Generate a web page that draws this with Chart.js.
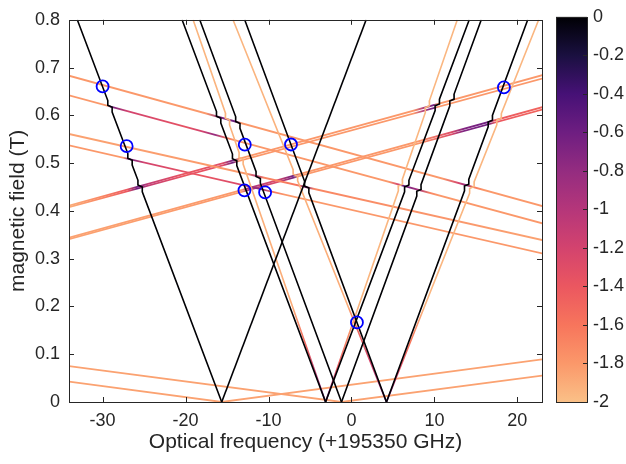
<!DOCTYPE html>
<html>
<head>
<meta charset="utf-8">
<script src="https://cdn.jsdelivr.net/npm/chart.js@4.4.1/dist/chart.umd.min.js"></script>
<style>
  html, body { margin: 0; padding: 0; background: #fff; }
  #wrap { position: relative; width: 626px; height: 464px; overflow: hidden; }
  #main { position: absolute; left: 0; top: 0; width: 550px; height: 464px; }
  #bar { position: absolute; left: 548px; top: 0; width: 78px; height: 464px; }
</style>
</head>
<body>
<div id="wrap">
  <div id="main"><canvas id="spectrumChart"></canvas></div>
  <div id="bar"><canvas id="colorbarChart"></canvas></div>
</div>
<script>
// axis ticks
const freqTicks = [-30, -20, -10, 0, 10, 20];
const fieldTicks = [0, 0.1, 0.2, 0.3, 0.4, 0.5, 0.6, 0.7, 0.8];
const logTicks = [0, -0.2, -0.4, -0.6, -0.8, -1, -1.2, -1.4, -1.6, -1.8, -2];

// steep transitions, [frequency (GHz), field (T)], listed top end first
const blackBranches = [
  [[-33.05, 0.8], [-15.64, 0]],
  [[1.77, 0.8], [-15.64, 0]],
  [[-20.42, 0.8], [-3.12, 0]],
  [[14.2, 0.8], [-3.12, 0]],
  [[-18.29, 0.8], [-1.2, 0]],
  [[15.65, 0.8], [-1.2, 0]],
  [[-12.87, 0.8], [4.22, 0]],
  [[21.25, 0.8], [4.22, 0]]
];
// fields (T) where each black branch shows an avoided crossing
const blackKinks = [
  [0.619, 0.508, 0.452],
  [],
  [0.596, 0.507],
  [0.622, 0.452],
  [0.585, 0.47],
  [0.632, 0.443],
  [0.45],
  [0.588, 0.454]
];
const orangeBranches = [
  [[-19.09, 0.8], [-3.12, 0]],
  [[12.76, 0.8], [-3.12, 0]],
  [[-14.28, 0.8], [4.22, 0]],
  [[22.57, 0.8], [4.22, 0]]
];
const orangeKinks = [
  [0.592, 0.51],
  [0.618, 0.454],
  [0.475],
  [0.592, 0.449]
];
// log intensity along each orange branch, [frequency, log10 I]
const orangeShade = [
  [[-19.09, -1.95], [-7.1, -1.9], [-5.5, -1.5], [-4.1, -1.0], [-3.12, -0.6]],
  [[12.76, -1.95], [0.9, -1.95], [-0.1, -1.8], [-1.7, -1.4], [-2.5, -0.9], [-3.12, -0.6]],
  [[-14.28, -1.95], [-0.4, -1.9], [0.3, -1.6], [2.4, -1.2], [3.8, -0.8], [4.22, -0.6]],
  [[22.57, -1.95], [8.8, -1.95], [7.0, -1.6], [5.4, -1.2], [4.22, -0.6]]
];

// shallow transitions
const shallowBranches = [
  [[-34.05, 0.683], [23, 0.41]],
  [[-34.05, 0.642], [23, 0.374]],
  [[-34.05, 0.561], [23, 0.339]],
  [[-34.05, 0.537], [23, 0.311]],
  [[-34.05, 0.411], [23, 0.684]],
  [[-34.05, 0.408], [23, 0.677]],
  [[-34.05, 0.344], [23, 0.617]],
  [[-34.05, 0.341], [23, 0.612]],
  [[-34.05, 0.0426], [-15.64, 0], [23, 0.0893]],
  [[-34.05, 0.075], [-1.2, 0], [23, 0.0552]]
];
const shallowShade = [
  [[-34.05, -1.8], [-17.5, -1.8], [-15.8, -0.7], [-14, -0.6], [-13.3, -1.8], [11, -1.8], [13, -1.2], [13.9, -0.7], [14.6, -1.6], [16, -1.8]],
  [[-34.05, -1.8], [-29.4, -1.8], [-29, -0.6], [-27, -1.2], [-20, -1.35], [-18, -1.2], [-16.5, -0.8], [-15, -1.6], [-14, -1.8], [4.5, -1.8], [5.7, -1.2], [6.2, -0.6], [8, -0.9], [9.5, -1.7], [10.5, -1.8]],
  [[-34.05, -1.85], [-12.5, -1.8], [-11.5, -1.0], [-10.5, -1.7], [-6.5, -1.6], [-5.5, -0.7], [-4.5, -1.7], [23, -1.85]],
  [[-34.05, -1.8], [-27.5, -1.8], [-26.8, -0.6], [-25, -1.2], [-18, -1.4], [-13.5, -1.25], [-11, -0.7], [-9.5, -1.6], [-8, -1.8], [23, -1.8]],
  [[-34.05, -1.9], [-30, -1.7], [-27, -1.4], [-25.8, -0.6], [-24.5, -1.1], [-20, -1.4], [-15.5, -1.3], [-14.3, -0.6], [-13.5, -1.8], [7.5, -1.8], [8.8, -0.9], [9.9, -0.6], [10.4, -1.8]],
  [[-34.05, -1.9], [-30, -1.7], [-27, -1.4], [-25.8, -0.6], [-24.5, -1.1], [-20, -1.4], [-15.5, -1.3], [-14.3, -0.6], [-13.5, -1.8], [7.5, -1.8], [8.8, -0.9], [9.9, -0.6], [10.4, -1.8]],
  [[-34.05, -1.85], [-13.2, -1.8], [-12.5, -0.9], [-9, -1.3], [-7, -0.6], [-6.3, -1.8], [8, -1.8], [12, -1.3], [13.5, -0.7], [16.5, -0.6], [17.3, -1.4], [23, -1.5]],
  [[-34.05, -1.85], [-13.2, -1.8], [-12.5, -0.9], [-9, -1.3], [-7, -0.6], [-6.3, -1.8], [8, -1.8], [12, -1.3], [13.5, -0.7], [16.5, -0.6], [17.3, -1.4], [23, -1.5]],
  [[-34.05, -1.85]],
  [[-34.05, -1.85]]
];

// measured points (blue circles)
const markFreq = [-30.0, -27.1, -12.86, -7.29, -12.9, -10.41, 18.38, 0.66];
const markField = [0.6605, 0.5354, 0.5387, 0.539, 0.443, 0.4386, 0.6585, 0.1665];

// colour map of the colour bar, [log10 I, rgb]
const cmapStops = [
  [0, [0, 0, 4]], [-0.2, [26, 16, 64]], [-0.4, [70, 17, 118]], [-0.6, [110, 30, 129]],
  [-0.8, [148, 44, 128]], [-1, [181, 54, 122]], [-1.2, [211, 67, 110]], [-1.4, [235, 87, 96]],
  [-1.6, [247, 117, 92]], [-1.8, [251, 152, 106]], [-2, [250, 192, 135]]
];

function cmap(v) {
  if (v >= 0) return 'rgb(0,0,4)';
  for (let i = 0; i < cmapStops.length - 1; i++) {
    const [v0, c0] = cmapStops[i], [v1, c1] = cmapStops[i + 1];
    if (v <= v0 && v >= v1) {
      const t = (v0 - v) / (v0 - v1);
      const c = c0.map((k, j) => Math.round(k + (c1[j] - k) * t));
      return `rgb(${c[0]},${c[1]},${c[2]})`;
    }
  }
  const c = cmapStops[cmapStops.length - 1][1];
  return `rgb(${c[0]},${c[1]},${c[2]})`;
}

// small S-shaped step where a steep branch meets a shallow one
function withKinks(pts, kinks) {
  const [top, bottom] = pts;
  const slope = (bottom[0] - top[0]) / (bottom[1] - top[1]);
  const xAt = f => top[0] + slope * (f - top[1]);
  const dir = slope < 0 ? 1 : -1;
  const half = 0.22, reach = 0.012, inner = 0.002;
  const out = [top];
  kinks.slice().sort((a, b) => b - a).forEach(f => {
    out.push([xAt(f + reach), f + reach]);
    out.push([xAt(f + inner) - dir * half, f + inner]);
    out.push([xAt(f - inner) + dir * half, f - inner]);
    out.push([xAt(f - reach), f - reach]);
  });
  out.push(bottom);
  return out;
}

function strokeFor(chart, pts, shade) {
  const plain = cmap(shade[0][1]);
  if (shade.length === 1 || !chart.chartArea) return plain;
  const { x, y } = chart.scales;
  if (!x || !y) return plain;
  const first = pts[0], last = pts[pts.length - 1];
  const x0 = x.getPixelForValue(first[0]), y0 = y.getPixelForValue(first[1]);
  const x1 = x.getPixelForValue(last[0]), y1 = y.getPixelForValue(last[1]);
  if (![x0, y0, x1, y1].every(Number.isFinite)) return plain;
  const g = chart.ctx.createLinearGradient(x0, y0, x1, y1);
  shade.forEach(([f, v]) => {
    const t = Math.min(1, Math.max(0, (f - first[0]) / (last[0] - first[0])));
    g.addColorStop(t, cmap(v));
  });
  return g;
}

const fontFamily = '"Liberation Sans", Arial, Helvetica, sans-serif';
const inkColor = '#262626';
const toXY = pts => pts.map(p => ({ x: p[0], y: p[1] }));

const datasets = [];
datasets.push({
  data: markFreq.map((f, i) => ({ x: f, y: markField[i] })),
  showLine: false,
  pointRadius: 6,
  pointBorderWidth: 1.8,
  pointBorderColor: '#0000ff',
  pointBackgroundColor: 'rgba(0,0,0,0)'
});
blackBranches.forEach((pts, i) => datasets.push({
  data: toXY(withKinks(pts, blackKinks[i])),
  borderColor: 'rgb(0,0,4)', borderWidth: 1.6, pointRadius: 0
}));
orangeBranches.forEach((pts, i) => datasets.push({
  data: toXY(withKinks(pts, orangeKinks[i])),
  borderColor: ctx => strokeFor(ctx.chart, pts, orangeShade[i]), borderWidth: 1.6, pointRadius: 0
}));
shallowBranches.forEach((pts, i) => datasets.push({
  data: toXY(pts),
  borderColor: ctx => strokeFor(ctx.chart, pts, shallowShade[i]), borderWidth: 1.8, pointRadius: 0
}));

// box and inward ticks like the original figure
const boxTicks = {
  id: 'boxTicks',
  afterDraw(chart) {
    const { ctx, chartArea: a, scales: { x, y } } = chart;
    ctx.save();
    ctx.strokeStyle = inkColor;
    ctx.lineWidth = 1;
    ctx.beginPath();
    freqTicks.forEach(t => {
      const px = Math.round(x.getPixelForValue(t)) + 0.5;
      ctx.moveTo(px, a.bottom); ctx.lineTo(px, a.bottom - 5);
      ctx.moveTo(px, a.top); ctx.lineTo(px, a.top + 5);
    });
    fieldTicks.forEach(t => {
      const py = Math.round(y.getPixelForValue(t)) + 0.5;
      ctx.moveTo(a.left, py); ctx.lineTo(a.left + 5, py);
      ctx.moveTo(a.right, py); ctx.lineTo(a.right - 5, py);
    });
    ctx.stroke();
    ctx.strokeRect(Math.round(a.left) + 0.5, Math.round(a.top) + 0.5,
      Math.round(a.right - a.left), Math.round(a.bottom - a.top));
    ctx.restore();
  }
};

const spectrumChart = new Chart(document.getElementById('spectrumChart'), {
  type: 'line',
  data: { datasets },
  options: {
    responsive: true,
    maintainAspectRatio: false,
    animation: false,
    layout: { padding: { left: 0, right: 8, top: 8, bottom: 0 } },
    elements: { line: { tension: 0 } },
    plugins: { legend: { display: false }, tooltip: { enabled: false } },
    scales: {
      x: {
        type: 'linear', min: -34.05, max: 22.97,
        afterBuildTicks: s => { s.ticks = freqTicks.map(v => ({ value: v })); },
        afterFit: s => { s.height = 62; },
        grid: { display: false, drawTicks: false },
        border: { display: false },
        ticks: { color: inkColor, padding: 8, font: { family: fontFamily, size: 18 }, callback: v => String(v) },
        title: { display: true, text: 'Optical frequency (+195350 GHz)', color: inkColor,
          font: { family: fontFamily, size: 21 }, padding: { top: 0, bottom: 9 } }
      },
      y: {
        type: 'linear', min: 0, max: 0.8,
        afterBuildTicks: s => { s.ticks = fieldTicks.map(v => ({ value: v })); },
        afterFit: s => { s.width = 69; },
        grid: { display: false, drawTicks: false },
        border: { display: false },
        ticks: { color: inkColor, padding: 9, font: { family: fontFamily, size: 18 }, callback: v => String(+v.toFixed(1)) },
        title: { display: true, text: 'magnetic field (T)', color: inkColor,
          font: { family: fontFamily, size: 21 }, padding: { top: 6, bottom: 0 } }
      }
    }
  },
  plugins: [boxTicks]
});
// redraw once scales exist so the gradients are built
spectrumChart.update('none');

// colour bar
const barTicks = {
  id: 'barTicks',
  afterDraw(chart) {
    const { ctx, chartArea: a, scales: { y } } = chart;
    ctx.save();
    ctx.strokeStyle = inkColor;
    ctx.lineWidth = 1;
    ctx.beginPath();
    logTicks.forEach(t => {
      const py = Math.round(y.getPixelForValue(t)) + 0.5;
      ctx.moveTo(a.right, py); ctx.lineTo(a.right - 4, py);
    });
    ctx.stroke();
    ctx.strokeRect(Math.round(a.left) + 0.5, Math.round(a.top) + 0.5,
      Math.round(a.right - a.left), Math.round(a.bottom - a.top));
    ctx.restore();
  }
};

const colorbarChart = new Chart(document.getElementById('colorbarChart'), {
  type: 'bar',
  data: {
    labels: ['log10 intensity'],
    datasets: [{
      data: [[-2, 0]],
      categoryPercentage: 1,
      barPercentage: 1,
      backgroundColor: ctx => {
        const { chartArea: a } = ctx.chart;
        if (!a || !Number.isFinite(a.top) || !Number.isFinite(a.bottom)) return cmap(-1);
        const g = ctx.chart.ctx.createLinearGradient(0, a.bottom, 0, a.top);
        cmapStops.slice().reverse().forEach(([v]) => g.addColorStop((v + 2) / 2, cmap(v)));
        return g;
      }
    }]
  },
  options: {
    responsive: true,
    maintainAspectRatio: false,
    animation: false,
    layout: { padding: { left: 8, right: 0, top: 10, bottom: 62 } },
    plugins: { legend: { display: false }, tooltip: { enabled: false } },
    scales: {
      x: { display: false },
      y: {
        position: 'right', min: -2, max: 0,
        afterBuildTicks: s => { s.ticks = logTicks.map(v => ({ value: v })); },
        afterFit: s => { s.width = 39; },
        grid: { display: false, drawTicks: false },
        border: { display: false },
        ticks: { color: inkColor, padding: 6, font: { family: fontFamily, size: 18 }, callback: v => String(+v.toFixed(1)) }
      }
    }
  },
  plugins: [barTicks]
});
colorbarChart.update('none');
</script>
</body>
</html>
